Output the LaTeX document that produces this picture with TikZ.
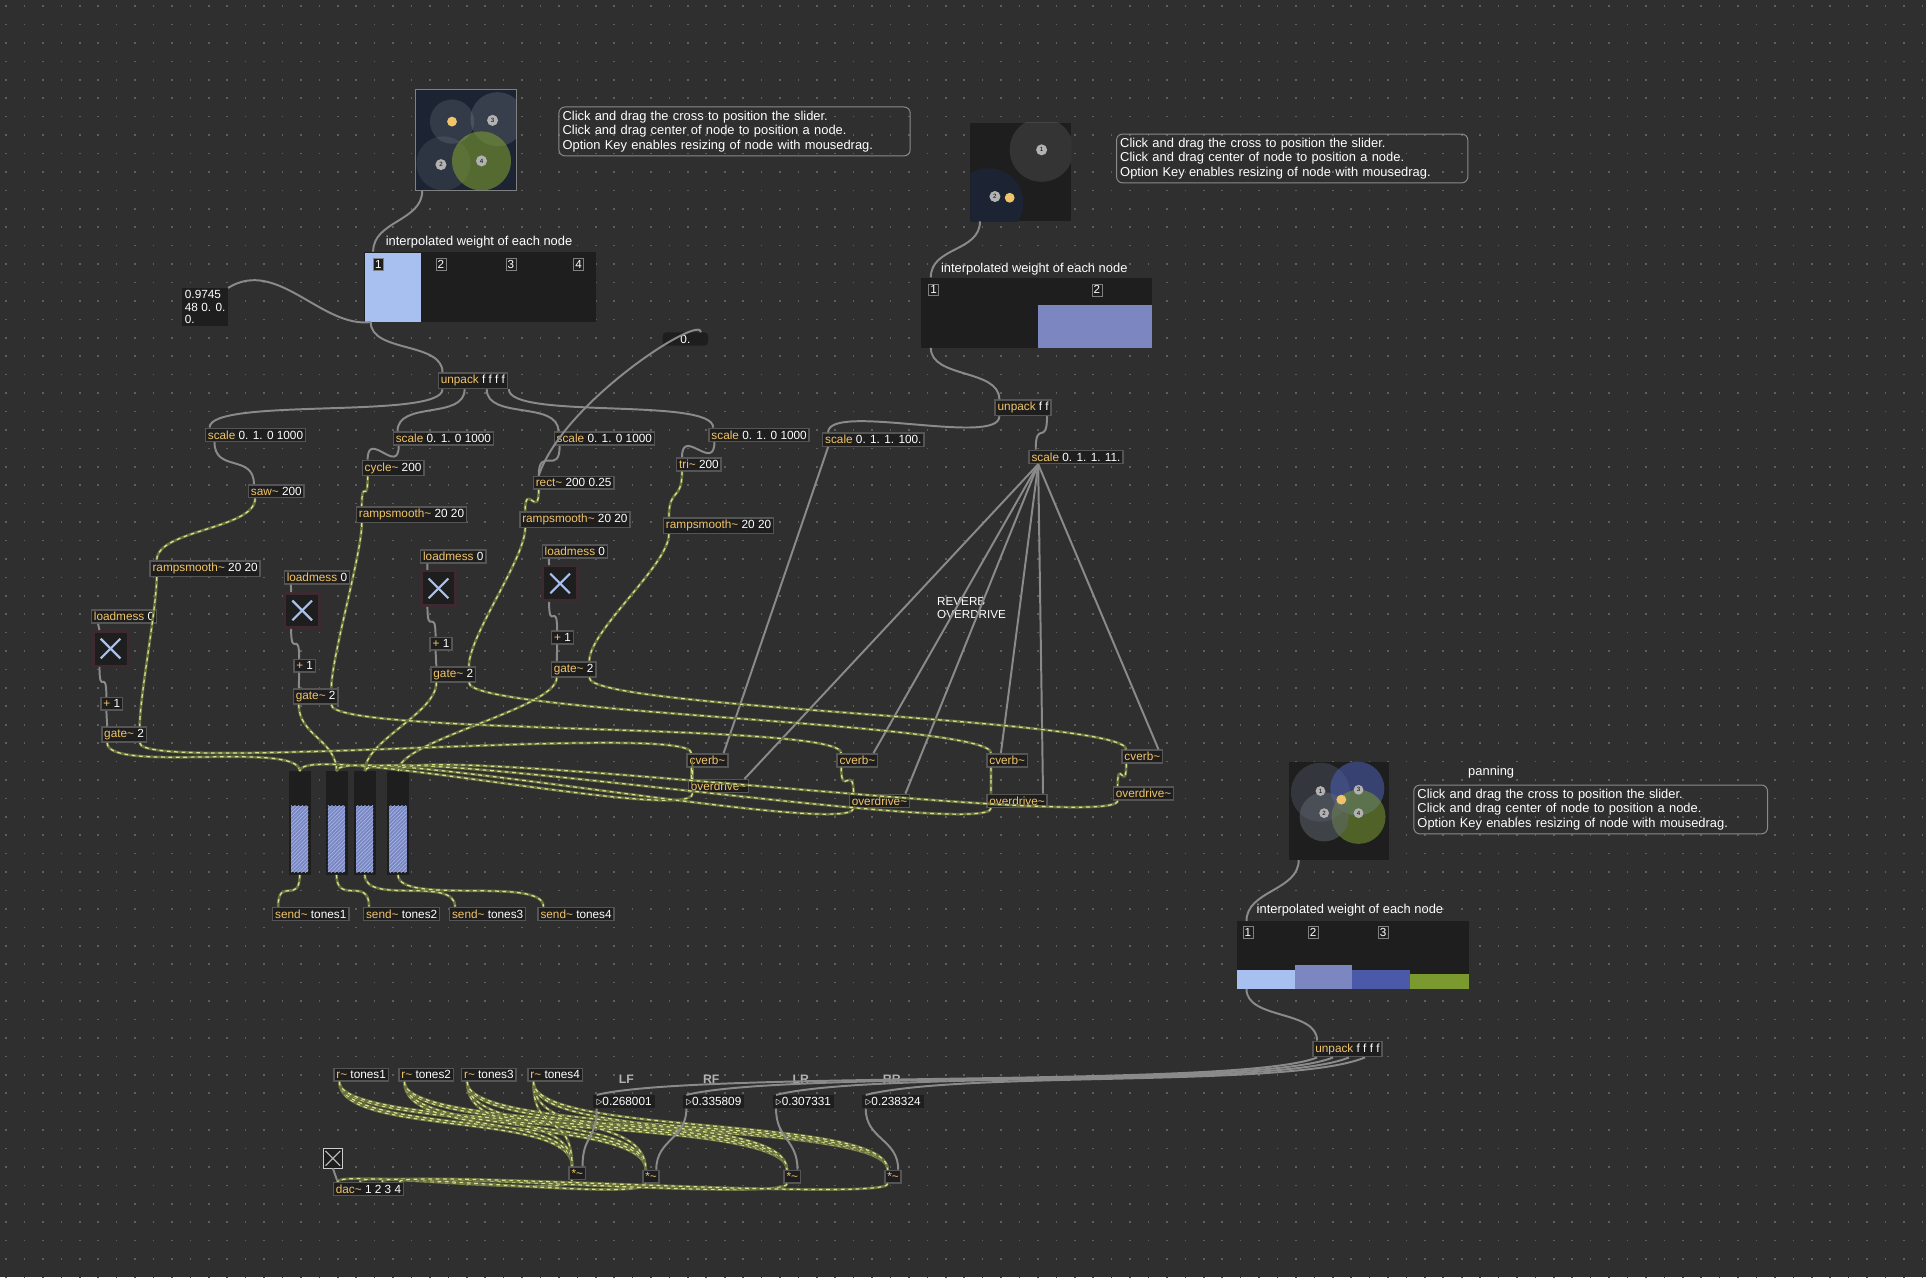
\documentclass[tikz,border=0pt]{standalone}
\usepackage{fontspec}
\setmainfont{Liberation Sans}
\usetikzlibrary{calc,patterns}
\definecolor{bg}{HTML}{2F2F2F}
\definecolor{box}{HTML}{1E1E1E}
\definecolor{edge}{HTML}{555555}
\definecolor{fn}{HTML}{F2C46A}
\definecolor{cord}{HTML}{8A8A8A}
\definecolor{sig}{HTML}{D8E48A}
\definecolor{sigd}{HTML}{6A7040}
\definecolor{nav}{HTML}{1C2434}
\definecolor{lb}{HTML}{A8C0F0}
\definecolor{mb}{HTML}{7C86C0}
\definecolor{db}{HTML}{4A5AA8}
\definecolor{gr}{HTML}{7A9A30}
\definecolor{tgb}{HTML}{3C2A30}
\tikzset{
 obj/.style={fill=box,draw=edge,line width=1.2pt,text=white,font=\fontsize{9.6}{10}\selectfont,inner xsep=2pt,inner ysep=1.8pt,anchor=center},
 ctl/.style={draw=cord,line width=1.6pt},
 sg/.style={draw=sigd,line width=2.2pt,postaction={draw=sig,line width=1pt,dash pattern=on 3pt off 3pt}},
 com/.style={draw=cord,rounded corners=5pt,text=white,font=\fontsize{10.5}{12}\selectfont,align=left,inner sep=3pt,line width=0.8pt},
 lbl/.style={text=white,font=\fontsize{10.5}{11}\selectfont},
 tog/.style={fill=box,draw=tgb,line width=2pt,minimum size=28pt},
 num/.style={fill=box,text=white,font=\fontsize{9.6}{10}\selectfont,inner sep=2pt},
 dn/.style={to path={.. controls +(0,25) and +(0,-25) .. (\tikztotarget)}},
 dnl/.style={to path={.. controls +(0,45) and +(0,-45) .. (\tikztotarget)}},
}
\newcommand\ob[5]{\node[obj] (#1) at (#2,#3) {\textcolor{fn}{#4}#5};}
\newcommand\tg[3]{\node[tog] (#1) at (#2,#3) {}; \draw[draw=lb,line width=1.8pt] ($(#1)+(-8,-8)$)--($(#1)+(8,8)$) ($(#1)+(-8,8)$)--($(#1)+(8,-8)$);}
\begin{document}
\begin{tikzpicture}[x=1pt,y=-1pt]
\fill[bg] (0,0) rectangle (1568,1040);
\useasboundingbox (0,0) rectangle (1568,1040);
\foreach \j in {0,...,69}{\draw[gray!60!bg,line width=1.3pt,dash pattern=on 1.3pt off 13.7pt] (4.35,\j*15+5) -- (1568,\j*15+5);}

% ---- nodes panel 1
\node[fill=nav,minimum width=82pt,minimum height=82pt,draw=gray,line width=0.5pt] (np1) at (379,114) {};
\begin{scope}
\clip (338,73) rectangle (420,155);
\fill[white,opacity=0.12] (405,97) circle (22);
\fill[white,opacity=0.08] (361,133) circle (22);
\fill[gr,opacity=0.6] (392,131) circle (24);
\fill[white,opacity=0.1] (368,99) circle (18);
\fill[fn] (368,99) circle (4);
\foreach \p/\n in {{(401,98)}/3,{(359,134)}/2,{(392,131)}/4}{\fill[gray!60] \p circle (4.5); \node[font=\fontsize{5}{5}\selectfont] at \p {\n};}
\end{scope}
\node[com,text width=280pt] (c1) at (598,107) {Click and drag the cross to position the slider.\\Click and drag center of node to position a node.\\Option Key enables resizing of node with mousedrag.};
\node[lbl] (l1) at (390,197) {interpolated weight of each node};
\node[fill=box,minimum width=189pt,minimum height=57pt,inner sep=0] (ms1) at (390.5,233.5) {};
\fill[lb] (297,206) rectangle (343,262);
\foreach \x/\n in {308/1,359/2,416/3,471/4}{\node[draw=gray,fill=box,text=white,font=\fontsize{9.5}{9.5}\selectfont,inner sep=1.5pt] at (\x,215) {\n};}
\node[num,align=left] (msg) at (167,250) {0.9745\\48 0. 0.\\0.};
\node[num,minimum width=37pt,rounded corners=3pt] (n0) at (558,276) {0.};

\ob{up1}{385}{310}{unpack}{ f f f f}
\ob{s1}{208}{354}{scale}{ 0. 1. 0 1000}
\ob{s2}{361}{357}{scale}{ 0. 1. 0 1000}
\ob{s3}{492}{357}{scale}{ 0. 1. 0 1000}
\ob{s4}{618}{354}{scale}{ 0. 1. 0 1000}
\ob{cyc}{320}{381}{cycle\textasciitilde}{ 200}
\ob{saw}{225}{400}{saw\textasciitilde}{ 200}
\ob{rect}{467}{393}{rect\textasciitilde}{ 200 0.25}
\ob{tri}{569}{378}{tri\textasciitilde}{ 200}
\ob{r1}{335}{419}{rampsmooth\textasciitilde}{ 20 20}
\ob{r2}{468}{423}{rampsmooth\textasciitilde}{ 20 20}
\ob{r3}{585}{428}{rampsmooth\textasciitilde}{ 20 20}
\ob{r4}{167}{463}{rampsmooth\textasciitilde}{ 20 20}
\ob{lm1}{369}{453}{loadmess}{ 0}
\ob{lm2}{468}{449}{loadmess}{ 0}
\ob{lm3}{258}{470}{loadmess}{ 0}
\ob{lm4}{101}{502}{loadmess}{ 0}
\tg{t1}{357}{479}\tg{t2}{456}{475}\tg{t3}{246}{497}\tg{t4}{90}{528}
\ob{p1}{359}{524}{+}{ 1}
\ob{p2}{458}{519}{+}{ 1}
\ob{p3}{248}{542}{+}{ 1}
\ob{p4}{91}{573}{+}{ 1}
\foreach \n/\x in {sl1/244,sl2/274,sl3/297,sl4/324}{
 \node[fill=box,minimum width=18pt,minimum height=84pt,inner sep=0] (\n) at (\x,670) {};
 \fill[mb] (\x-7,656) rectangle (\x+7,710);
 \fill[pattern=north east lines,pattern color=lb] (\x-7,656) rectangle (\x+7,710);
}
\ob{se1}{253}{744}{send\textasciitilde}{ tones1}
\ob{se2}{327}{744}{send\textasciitilde}{ tones2}
\ob{se3}{397}{744}{send\textasciitilde}{ tones3}
\ob{se4}{469}{744}{send\textasciitilde}{ tones4}

% ---- panel 2
\node[fill=box,minimum width=82pt,minimum height=80pt,inner sep=0] (np2) at (831,140) {};
\begin{scope}\clip (790,100) rectangle (872,180);
\fill[white,opacity=0.1] (848,122) circle (26);
\fill[nav] (805,165) circle (28);
\fill[gray!60] (848,122) circle (4.5); \node[font=\fontsize{5}{5}\selectfont] at (848,122) {1};
\fill[gray!60] (810,160) circle (4.5); \node[font=\fontsize{5}{5}\selectfont] at (810,160) {2};
\fill[fn] (822,161) circle (4);
\end{scope}
\node[com,text width=280pt] (c2) at (1052,129) {Click and drag the cross to position the slider.\\Click and drag center of node to position a node.\\Option Key enables resizing of node with mousedrag.};
\node[lbl] (l2) at (842,219) {interpolated weight of each node};
\node[fill=box,minimum width=188pt,minimum height=57pt,inner sep=0] (ms2) at (844,254.5) {};
\fill[mb] (845,248) rectangle (938,283);
\foreach \x/\n in {760/1,893/2}{\node[draw=gray,fill=box,text=white,font=\fontsize{9.5}{9.5}\selectfont,inner sep=1.5pt] at (\x,236) {\n};}
\ob{up2}{833}{332}{unpack}{ f f}
\ob{sa}{711}{358}{scale}{ 0. 1. 1. 100.}
\ob{sb}{876}{372}{scale}{ 0. 1. 1. 11.}
\node[lbl,align=left,font=\fontsize{9.5}{10}\selectfont] (rv) at (791,495) {REVERB\\OVERDRIVE};

% ---- panel 3
\node[fill=box,minimum width=81pt,minimum height=80pt,inner sep=0] (np3) at (1090,660) {};
\begin{scope}\clip (1050,620) rectangle (1131,700);
\fill[nav!80!white,opacity=0.5] (1075,645) circle (24);
\fill[db,opacity=0.6] (1105,642) circle (22);
\fill[gr,opacity=0.55] (1106,665) circle (22);
\fill[nav!70!white,opacity=0.5] (1078,665) circle (20);
\fill[fn] (1092,651) circle (4);
\foreach \p/\n in {{(1075,644)}/1,{(1106,643)}/3,{(1078,662)}/2,{(1106,662)}/4}{\fill[gray!60] \p circle (4); \node[font=\fontsize{5}{5}\selectfont] at \p {\n};}
\end{scope}
\node[lbl] (pan) at (1214,629) {panning};
\node[com,text width=282pt] (c3) at (1295,659) {Click and drag the cross to position the slider.\\Click and drag center of node to position a node.\\Option Key enables resizing of node with mousedrag.};
\node[lbl] (l3) at (1099,741) {interpolated weight of each node};
\node[fill=box,minimum width=189pt,minimum height=55pt,inner sep=0] (ms3) at (1101.5,777.5) {};
\fill[lb] (1007,790) rectangle (1054,805);
\fill[mb] (1054,786) rectangle (1101,805);
\fill[db] (1101,790) rectangle (1148,805);
\fill[gr] (1148,793) rectangle (1196,805);
\foreach \x/\n in {1016/1,1069/2,1126/3}{\node[draw=gray,fill=box,text=white,font=\fontsize{9.5}{9.5}\selectfont,inner sep=1.5pt] at (\x,759) {\n};}
\ob{up3}{1097}{854}{unpack}{ f f f f}

\ob{rt1}{294}{875}{r\textasciitilde}{ tones1}
\ob{rt2}{347}{875}{r\textasciitilde}{ tones2}
\ob{rt3}{398}{875}{r\textasciitilde}{ tones3}
\ob{rt4}{452}{875}{r\textasciitilde}{ tones4}
\foreach \n/\x/\t in {lf/510/LF,rf/579/RF,lr/652/LR,rr/726/RR}{\node[text=gray!60,font=\bfseries\fontsize{10}{10}\selectfont] (\n) at (\x,879) {\t};}
\node[fill=box,draw=gray!40,minimum size=16pt,inner sep=0] (tb) at (271,943) {};
\draw[gray!60,line width=1pt] (265,937)--(277,949) (265,949)--(277,937);

% ---- control cords
\begin{scope}[every path/.style={ctl}]
\draw ($(np1.south west)+(6,0)$) to[dn] ($(ms1.north west)+(8,0)$);
\draw ($(ms1.south west)+(6,0)$) .. controls +(-40,5) and +(40,-25) .. (msg.north east);
\draw ($(ms1.south west)+(6,0)$) to[dn] ($(up1.north west)+(4,0)$);
\foreach \s/\k in {s1/0,s2/1,s3/2,s4/3}{\draw ($(up1.south west)+(4+\k*18,0)$) to[dn] ($(\s.north west)+(4,0)$);}
\draw ($(s1.south west)+(8,0)$) to[dn] ($(saw.north west)+(5,0)$);
\draw ($(s2.south west)+(5,0)$) to[dn] ($(cyc.north west)+(5,0)$);
\draw ($(s3.south west)+(5,0)$) to[dn] ($(rect.north west)+(5,0)$);
\draw ($(s4.south west)+(5,0)$) to[dn] ($(tri.north west)+(5,0)$);
\draw ($(n0.north east)+(-6,0)$) .. controls +(0,-15) and +(20,-60) .. ($(rect.north west)+(5,0)$);
\foreach \l/\t/\p in {lm1/t1/p1,lm2/t2/p2,lm3/t3/p3,lm4/t4/p4}{
 \draw ($(\l.south west)+(6,0)$)--($(\t.north west)+(6,0)$);
 \draw ($(\t.south west)+(6,0)$) to[dn] ($(\p.north west)+(5,0)$);}
\draw ($(np2.south west)+(8,0)$) to[dn] ($(ms2.north west)+(8,0)$);
\draw ($(ms2.south west)+(8,0)$) to[dn] ($(up2.north west)+(4,0)$);
\draw ($(up2.south west)+(4,0)$) to[dn] ($(sa.north west)+(5,0)$);
\draw ($(up2.south east)+(-4,0)$) to[dn] ($(sb.north west)+(6,0)$);
\draw ($(np3.south west)+(8,0)$) to[dn] ($(ms3.north west)+(8,0)$);
\draw ($(ms3.south west)+(8,0)$) to[dn] ($(up3.north west)+(4,0)$);
\end{scope}
% gates and fx
\ob{g1}{369}{549}{gate\textasciitilde}{ 2}
\ob{g2}{467}{545}{gate\textasciitilde}{ 2}
\ob{g3}{257}{567}{gate\textasciitilde}{ 2}
\ob{g4}{101}{598}{gate\textasciitilde}{ 2}
\foreach \p/\g in {p1/g1,p2/g2,p3/g3,p4/g4}{\draw[ctl] ($(\p.south west)+(5,0)$)--($(\g.north west)+(5,0)$);}
\ob{cv1}{576}{619}{cverb\textasciitilde}{}
\ob{cv2}{698}{619}{cverb\textasciitilde}{}
\ob{cv3}{820}{619}{cverb\textasciitilde}{}
\ob{cv4}{930}{616}{cverb\textasciitilde}{}
\ob{od1}{585}{640}{overdrive\textasciitilde}{}
\ob{od2}{716}{652}{overdrive\textasciitilde}{}
\ob{od3}{828}{652}{overdrive\textasciitilde}{}
\ob{od4}{931}{646}{overdrive\textasciitilde}{}
\node[num,minimum width=50pt] (v1) at (508,897) {$\triangleright$0.268001};
\node[num,minimum width=50pt] (v2) at (581,897) {$\triangleright$0.335809};
\node[num,minimum width=50pt] (v3) at (654,897) {$\triangleright$0.307331};
\node[num,minimum width=50pt] (v4) at (727,897) {$\triangleright$0.238324};
\begin{scope}[every path/.style={ctl}]
\draw ($(sa.south west)+(5,0)$) -- ($(cv1.north east)+(-4,0)$);
\coordinate (fan) at ($(sb.south west)+(8,0)$);
\draw (fan) -- ($(od1.north east)+(-4,0)$);
\draw (fan) -- ($(cv2.north east)+(-4,0)$);
\draw (fan) -- ($(od2.north east)+(-4,0)$);
\draw (fan) -- ($(cv3.north west)+(12,0)$);
\draw (fan) -- ($(od3.north east)+(-4,0)$);
\draw (fan) -- ($(cv4.north east)+(-4,0)$);
\foreach \v/\k in {v1/0,v2/1,v3/2,v4/3}{\draw ($(up3.south west)+(4+\k*13,0)$) .. controls +(-60,25) and +(80,-20) .. ($(\v.north west)+(3,0)$);}
\end{scope}

% ---- signal cords
\draw[sg] ($(saw.south west)+(6,0)$) to[dn] ($(r4.north west)+(6,0)$);
\draw[sg] ($(r4.south west)+(6,0)$) to[dn] ($(g4.north east)+(-6,0)$);
\draw[sg] ($(cyc.south west)+(5,0)$) to[dn] ($(r1.north west)+(5,0)$);
\draw[sg] ($(r1.south west)+(5,0)$) to[dn] ($(g3.north east)+(-6,0)$);
\draw[sg] ($(rect.south west)+(5,0)$) to[dn] ($(r2.north west)+(5,0)$);
\draw[sg] ($(r2.south west)+(5,0)$) to[dn] ($(g1.north east)+(-6,0)$);
\draw[sg] ($(tri.south west)+(5,0)$) to[dn] ($(r3.north west)+(5,0)$);
\draw[sg] ($(r3.south west)+(5,0)$) to[dn] ($(g2.north east)+(-6,0)$);
\draw[sg] ($(g4.south west)+(5,0)$) to[dn] (sl1.north);
\draw[sg] ($(g3.south west)+(5,0)$) to[dn] (sl2.north);
\draw[sg] ($(g1.south west)+(5,0)$) to[dn] (sl3.north);
\draw[sg] ($(g2.south west)+(5,0)$) to[dn] (sl4.north);
\draw[sg] ($(g4.south east)+(-6,0)$) to[dn] ($(cv1.north west)+(4,0)$);
\draw[sg] ($(g3.south east)+(-6,0)$) to[dn] ($(cv2.north west)+(4,0)$);
\draw[sg] ($(g1.south east)+(-6,0)$) to[dn] ($(cv3.north west)+(4,0)$);
\draw[sg] ($(g2.south east)+(-6,0)$) to[dn] ($(cv4.north west)+(4,0)$);
\foreach \c/\o in {cv1/od1,cv2/od2,cv3/od3,cv4/od4}{\draw[sg] ($(\c.south west)+(4,0)$) to[dn] ($(\o.north west)+(4,0)$);}
\draw[sg] ($(od1.south west)+(4,0)$) to[dn] (sl1.north);
\draw[sg] ($(od2.south west)+(4,0)$) to[dn] (sl2.north);
\draw[sg] ($(od3.south west)+(4,0)$) to[dn] (sl3.north);
\draw[sg] ($(od4.south west)+(4,0)$) to[dn] (sl4.north);
\draw[sg] (sl1.south) to[dn] ($(se1.north west)+(5,0)$);
\draw[sg] (sl2.south) to[dn] ($(se2.north west)+(5,0)$);
\draw[sg] (sl3.south) to[dn] ($(se3.north west)+(5,0)$);
\draw[sg] (sl4.south) to[dn] ($(se4.north west)+(5,0)$);
\ob{m1}{470}{955}{*\textasciitilde}{}
\ob{m2}{530}{958}{*\textasciitilde}{}
\ob{m3}{645}{958}{*\textasciitilde}{}
\ob{m4}{727}{958}{*\textasciitilde}{}
\ob{dac}{300}{968}{dac\textasciitilde}{ 1 2 3 4}
\foreach \r in {rt1,rt2,rt3,rt4}{\foreach \m in {m1,m2,m3,m4}{
 \draw[sg] ($(\r.south west)+(5,0)$) to[dnl] ($(\m.north west)+(3,0)$);}}
\begin{scope}[every path/.style={ctl}]
\draw ($(v1.south west)+(3,0)$) to[dn] ($(m1.north east)+(-3,0)$);
\draw ($(v2.south west)+(3,0)$) to[dn] ($(m2.north east)+(-3,0)$);
\draw ($(v3.south west)+(3,0)$) to[dn] ($(m3.north east)+(-3,0)$);
\draw ($(v4.south west)+(3,0)$) to[dn] ($(m4.north east)+(-3,0)$);
\draw (tb.south) -- ($(dac.north west)+(4,0)$);
\end{scope}
\draw[sg] ($(m1.south west)+(3,0)$) .. controls +(0,15) and +(0,-10) .. ($(dac.north west)+(4,0)$);
\draw[sg] ($(m2.south west)+(3,0)$) .. controls +(0,15) and +(0,-10) .. ($(dac.north west)+(22,0)$);
\draw[sg] ($(m3.south west)+(3,0)$) .. controls +(0,15) and +(0,-10) .. ($(dac.north west)+(40,0)$);
\draw[sg] ($(m4.south west)+(3,0)$) .. controls +(0,15) and +(0,-10) .. ($(dac.north east)+(-4,0)$);
\end{tikzpicture}
\end{document}
